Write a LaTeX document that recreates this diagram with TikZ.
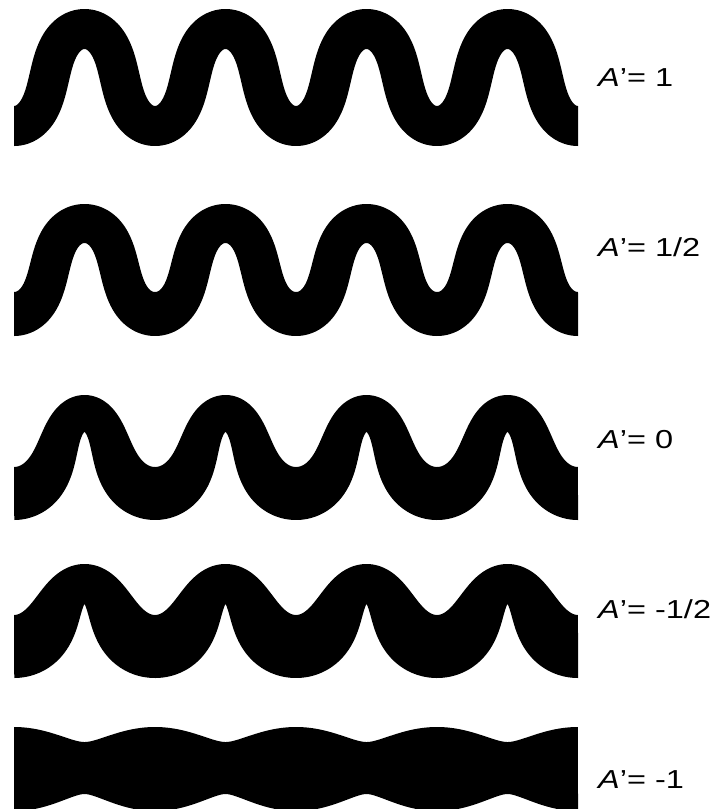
\documentclass[tikz,border=0pt]{standalone}
\usepackage{fontspec}
\setmainfont{Liberation Sans}
\newfontfamily\labfont[FakeStretch=1.25]{Liberation Sans}
% offset curves of a (skewed) cosine centre line
% top: #1 centre, #2 amplitude, #3 offset, #4 flank steepness; bottom: #5..#8 likewise
\newcommand\wavyband[8]{%
  \fill[band]
  plot[domain=-pi:7*pi,samples=700,variable=\t]
  ({84.5+(\t+0.5*(#4)*sin(deg(2*\t)))*22.442+(#3)*(#2)*sin(deg(\t))/sqrt((1+(#4)*cos(deg(2*\t)))^2*503.63+((#2)*sin(deg(\t)))^2)},
   {#1-(#2)*cos(deg(\t))-(#3)*(1+(#4)*cos(deg(2*\t)))*22.442/sqrt((1+(#4)*cos(deg(2*\t)))^2*503.63+((#2)*sin(deg(\t)))^2)})
  -- plot[domain=-pi:7*pi,samples=700,variable=\t]
  ({84.5+(6*pi-\t-0.5*(#8)*sin(deg(2*\t)))*22.442+(#7)*(#6)*sin(deg(\t))/sqrt((1+(#8)*cos(deg(2*\t)))^2*503.63+((#6)*sin(deg(\t)))^2)},
   {#5-(#6)*cos(deg(\t))+(#7)*(1+(#8)*cos(deg(2*\t)))*22.442/sqrt((1+(#8)*cos(deg(2*\t)))^2*503.63+((#6)*sin(deg(\t)))^2)})
  -- cycle;}
\tikzset{lab/.style={anchor=base west,inner sep=0pt,font=\labfont\fontsize{26}{30}\selectfont},
  band/.style={fill=black}}
\begin{document}
\begin{tikzpicture}[x=1pt,y=-1pt]
\useasboundingbox (0,0) rectangle (714,809);
\begin{scope}
\clip (14,0) rectangle (578.2,809);
\wavyband{77.5}{48.5}{20}{0.5}{77.5}{48.5}{20}{0.5}
\wavyband{267.5}{44}{19.5}{0.5}{269.5}{46.5}{20}{0.5}
\wavyband{441}{36}{10}{0.3}{447.5}{44}{28.5}{0.58}
\wavyband{604}{25.5}{14.5}{0.14}{608.5}{37.5}{32}{0.54}
\wavyband{779.5}{-7.5}{45}{0}{757.5}{8.5}{45}{0}
\end{scope}
\node[lab] (l1) at (598,86.5) {\itshape A\upshape ’= 1};
\node[lab] (l2) at (598,256.5) {\itshape A\upshape ’= 1/2};
\node[lab] (l3) at (598,448.5) {\itshape A\upshape ’= 0};
\node[lab] (l4) at (598,618.5) {\itshape A\upshape ’= -1/2};
\node[lab] (l5) at (598,788.5) {\itshape A\upshape ’= -1};
\end{tikzpicture}
\end{document}
